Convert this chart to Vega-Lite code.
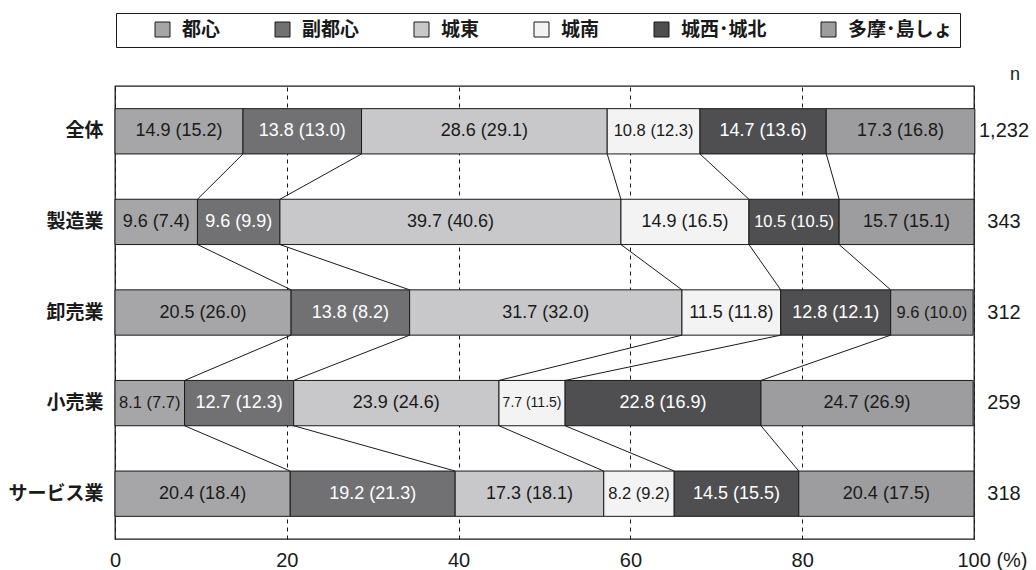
{
  "$schema": "https://vega.github.io/schema/vega-lite/v6.json",
  "width": 859,
  "height": 453,
  "autosize": {"type": "none"},
  "padding": {"left": 115, "top": 86, "right": 62, "bottom": 31},
  "background": "white",
  "config": {
    "view": {"stroke": "#1a1a1a", "strokeWidth": 1.3},
    "font": "Liberation Sans"
  },
  "data": {
    "values": [
      {"industry": "全体", "area": "都心", "value": 14.9, "prev": 15.2, "n": "1,232"},
      {"industry": "全体", "area": "副都心", "value": 13.8, "prev": 13.0, "n": "1,232"},
      {"industry": "全体", "area": "城東", "value": 28.6, "prev": 29.1, "n": "1,232"},
      {"industry": "全体", "area": "城南", "value": 10.8, "prev": 12.3, "n": "1,232"},
      {"industry": "全体", "area": "城西･城北", "value": 14.7, "prev": 13.6, "n": "1,232"},
      {"industry": "全体", "area": "多摩･島しょ", "value": 17.3, "prev": 16.8, "n": "1,232"},
      {"industry": "製造業", "area": "都心", "value": 9.6, "prev": 7.4, "n": "343"},
      {"industry": "製造業", "area": "副都心", "value": 9.6, "prev": 9.9, "n": "343"},
      {"industry": "製造業", "area": "城東", "value": 39.7, "prev": 40.6, "n": "343"},
      {"industry": "製造業", "area": "城南", "value": 14.9, "prev": 16.5, "n": "343"},
      {"industry": "製造業", "area": "城西･城北", "value": 10.5, "prev": 10.5, "n": "343"},
      {"industry": "製造業", "area": "多摩･島しょ", "value": 15.7, "prev": 15.1, "n": "343"},
      {"industry": "卸売業", "area": "都心", "value": 20.5, "prev": 26.0, "n": "312"},
      {"industry": "卸売業", "area": "副都心", "value": 13.8, "prev": 8.2, "n": "312"},
      {"industry": "卸売業", "area": "城東", "value": 31.7, "prev": 32.0, "n": "312"},
      {"industry": "卸売業", "area": "城南", "value": 11.5, "prev": 11.8, "n": "312"},
      {"industry": "卸売業", "area": "城西･城北", "value": 12.8, "prev": 12.1, "n": "312"},
      {"industry": "卸売業", "area": "多摩･島しょ", "value": 9.6, "prev": 10.0, "n": "312"},
      {"industry": "小売業", "area": "都心", "value": 8.1, "prev": 7.7, "n": "259"},
      {"industry": "小売業", "area": "副都心", "value": 12.7, "prev": 12.3, "n": "259"},
      {"industry": "小売業", "area": "城東", "value": 23.9, "prev": 24.6, "n": "259"},
      {"industry": "小売業", "area": "城南", "value": 7.7, "prev": 11.5, "n": "259"},
      {"industry": "小売業", "area": "城西･城北", "value": 22.8, "prev": 16.9, "n": "259"},
      {"industry": "小売業", "area": "多摩･島しょ", "value": 24.7, "prev": 26.9, "n": "259"},
      {"industry": "サービス業", "area": "都心", "value": 20.4, "prev": 18.4, "n": "318"},
      {"industry": "サービス業", "area": "副都心", "value": 19.2, "prev": 21.3, "n": "318"},
      {"industry": "サービス業", "area": "城東", "value": 17.3, "prev": 18.1, "n": "318"},
      {"industry": "サービス業", "area": "城南", "value": 8.2, "prev": 9.2, "n": "318"},
      {"industry": "サービス業", "area": "城西･城北", "value": 14.5, "prev": 15.5, "n": "318"},
      {"industry": "サービス業", "area": "多摩･島しょ", "value": 20.4, "prev": 17.5, "n": "318"}
    ]
  },
  "transform": [
    {"calculate": "indexof(['都心','副都心','城東','城南','城西･城北','多摩･島しょ'], datum.area)", "as": "areaOrder"},
    {"calculate": "indexof(['全体','製造業','卸売業','小売業','サービス業'], datum.industry)", "as": "row"},
    {"stack": "value", "groupby": ["industry"], "sort": [{"field": "areaOrder", "order": "ascending"}], "as": ["x0", "x1"]},
    {"calculate": "(datum.x0 + datum.x1) / 2", "as": "xm"},
    {"calculate": "format(datum.value, '.1f') + ' (' + format(datum.prev, '.1f') + ')'", "as": "label"}
  ],
  "resolve": {"scale": {"y": "independent"}},
  "layer": [
    {
      "layer": [
        {
          "mark": {"type": "bar", "stroke": "#1a1a1a", "strokeWidth": 1},
          "encoding": {
            "x": {
              "field": "x0", "type": "quantitative",
              "scale": {"domain": [0, 100], "nice": false},
              "axis": {
                "values": [0, 20, 40, 60, 80, 100],
                "grid": true, "gridColor": "#1a1a1a", "gridDash": [4, 4], "gridWidth": 1,
                "domain": false, "ticks": false, "labelFlush": false,
                "labelFontSize": 20, "labelColor": "#1a1a1a", "labelPadding": 11,
                "labelFont": "Liberation Sans",
                "labelExpr": "datum.value == 100 ? '100 (%)' : datum.label",
                "labelOffset": {"condition": {"test": "datum.value == 100", "value": 18}, "value": 0},
                "title": null
              }
            },
            "x2": {"field": "x1"},
            "y": {
              "field": "industry", "type": "nominal",
              "sort": ["全体", "製造業", "卸売業", "小売業", "サービス業"],
              "scale": {"paddingInner": 0.5, "paddingOuter": 0.25},
              "axis": {
                "domain": false, "ticks": false, "labelPadding": 12,
                "labelFontSize": 19, "labelFontWeight": "bold", "labelColor": "#1a1a1a",
                "labelFont": "Noto Sans CJK JP", "title": null
              }
            },
            "color": {
              "field": "area", "type": "nominal",
              "sort": ["都心", "副都心", "城東", "城南", "城西･城北", "多摩･島しょ"],
              "scale": {
                "domain": ["都心", "副都心", "城東", "城南", "城西･城北", "多摩･島しょ"],
                "range": ["#a6a6a8", "#717173", "#c8c8ca", "#f3f3f3", "#4f4f51", "#9d9d9f"]
              },
              "legend": {
                "orient": "none", "legendX": 1, "legendY": -73,
                "direction": "horizontal", "columns": 6,
                "title": "\u3000", "titleOrient": "left", "titleFontSize": 20, "titlePadding": 30,
                "strokeColor": "#1a1a1a", "padding": 7,
                "symbolType": "square", "symbolSize": 225,
                "symbolStrokeColor": "#1a1a1a", "symbolStrokeWidth": 1,
                "labelFontSize": 19, "labelFontWeight": "bold", "labelColor": "#1a1a1a",
                "labelFont": "Noto Sans CJK JP",
                "columnPadding": 52, "gridAlign": "none", "labelOffset": 10
              }
            }
          }
        },
        {
          "mark": {"type": "text", "font": "Liberation Sans", "baseline": "middle", "align": "center"},
          "encoding": {
            "x": {"field": "xm", "type": "quantitative"},
            "y": {"field": "industry", "type": "nominal", "sort": ["全体", "製造業", "卸売業", "小売業", "サービス業"]},
            "text": {"field": "label"},
            "size": {
              "condition": [
                {"test": "datum.value * 8.59 < length(datum.label) * 7.2", "value": 14},
                {"test": "datum.value * 8.59 < length(datum.label) * 8.9", "value": 16.5}
              ],
              "value": 18
            },
            "color": {"condition": {"test": "datum.area === '副都心' || datum.area === '城西･城北'", "value": "white"}, "value": "#1a1a1a"}
          }
        },
        {
          "transform": [{"filter": "datum.areaOrder == 0"}],
          "mark": {"type": "text", "font": "Liberation Sans", "fontSize": 20, "align": "center", "baseline": "middle", "dx": 30, "color": "#1a1a1a"},
          "encoding": {
            "x": {"datum": 100},
            "y": {"field": "industry", "type": "nominal", "sort": ["全体", "製造業", "卸売業", "小売業", "サービス業"]},
            "text": {"field": "n"}
          }
        }
      ]
    },
    {
      "layer": [
        {
          "transform": [
            {"filter": "datum.areaOrder < 5"},
            {"window": [{"op": "lead", "field": "x1", "as": "nx1"}], "groupby": ["area"], "sort": [{"field": "row", "order": "ascending"}]},
            {"filter": "datum.nx1 != null"},
            {"calculate": "datum.row + 0.75", "as": "ya"},
            {"calculate": "datum.row + 1.25", "as": "yb"}
          ],
          "mark": {"type": "rule", "color": "#1a1a1a", "strokeWidth": 1},
          "encoding": {
            "x": {"field": "x1", "type": "quantitative"},
            "x2": {"field": "nx1"},
            "y": {"field": "ya", "type": "quantitative", "scale": {"domain": [0, 5], "reverse": true, "nice": false, "zero": false}, "axis": null},
            "y2": {"field": "yb"}
          }
        },
        {
          "data": {"values": [{"t": "n"}]},
          "mark": {"type": "text", "font": "Liberation Sans", "fontSize": 18, "align": "center", "baseline": "middle", "dx": 41, "color": "#1a1a1a"},
          "encoding": {
            "x": {"datum": 100},
            "y": {"datum": -0.12, "type": "quantitative", "scale": {"domain": [0, 5], "reverse": true, "nice": false, "zero": false}, "axis": null},
            "text": {"field": "t"}
          }
        }
      ]
    }
  ]
}
